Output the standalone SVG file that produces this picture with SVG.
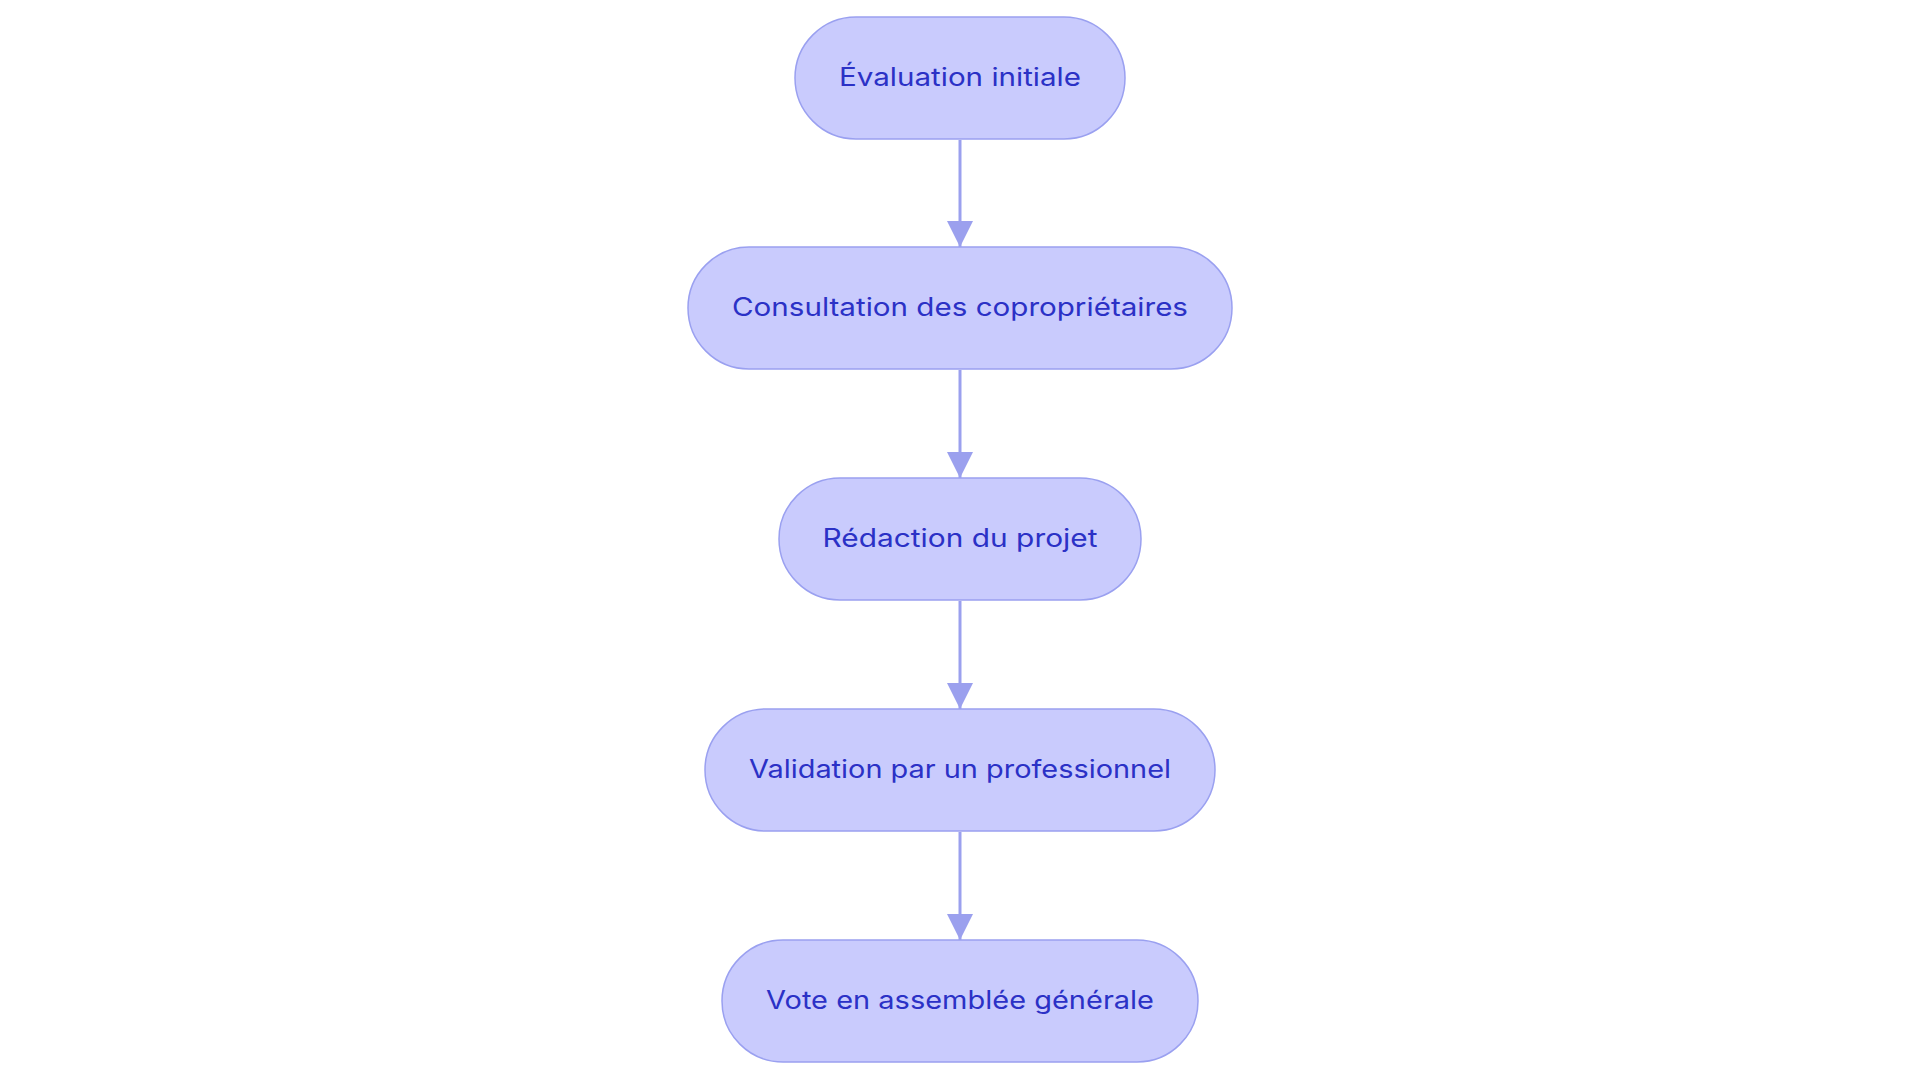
<svg xmlns="http://www.w3.org/2000/svg" width="1920" height="1083" viewBox="0 0 1920 1083">
<defs>
<marker id="arrow" viewBox="0 0 26 26" refX="26" refY="13" markerWidth="26" markerHeight="26" markerUnits="userSpaceOnUse" orient="auto">
<path d="M0,0 L26,13 L0,26 Z" fill="#9ba0ee"/>
</marker>
<style>
.node rect{fill:#c9cbfd;stroke:#9aa0f0;stroke-width:1.5}
.node text{font-family:Inter,"Open Sans","Liberation Sans",sans-serif;font-size:25px;fill:#2b31c6;text-anchor:middle;dominant-baseline:central}
.edge{stroke:#9ba0ee;stroke-width:3;fill:none}
</style>
</defs>
<rect width="1920" height="1083" fill="#ffffff"/>
<g id="connectors">
<path class="edge" d="M960,140 L960,247" marker-end="url(#arrow)"/>
<path class="edge" d="M960,370 L960,478" marker-end="url(#arrow)"/>
<path class="edge" d="M960,601 L960,709" marker-end="url(#arrow)"/>
<path class="edge" d="M960,832 L960,940" marker-end="url(#arrow)"/>
</g>
<g id="node1" class="node">
<rect x="795" y="17" width="330" height="122" rx="61" ry="61"/>
<text x="960" y="77" textLength="242" lengthAdjust="spacingAndGlyphs">Évaluation initiale</text>
</g>
<g id="node2" class="node">
<rect x="688" y="247" width="544" height="122" rx="61" ry="61"/>
<text x="960" y="307" textLength="456" lengthAdjust="spacingAndGlyphs">Consultation des copropriétaires</text>
</g>
<g id="node3" class="node">
<rect x="779" y="478" width="362" height="122" rx="61" ry="61"/>
<text x="960" y="538" textLength="275" lengthAdjust="spacingAndGlyphs">Rédaction du projet</text>
</g>
<g id="node4" class="node">
<rect x="705" y="709" width="510" height="122" rx="61" ry="61"/>
<text x="960" y="769" textLength="422" lengthAdjust="spacingAndGlyphs">Validation par un professionnel</text>
</g>
<g id="node5" class="node">
<rect x="722" y="940" width="476" height="122" rx="61" ry="61"/>
<text x="960" y="1000" textLength="388" lengthAdjust="spacingAndGlyphs">Vote en assemblée générale</text>
</g>
</svg>
